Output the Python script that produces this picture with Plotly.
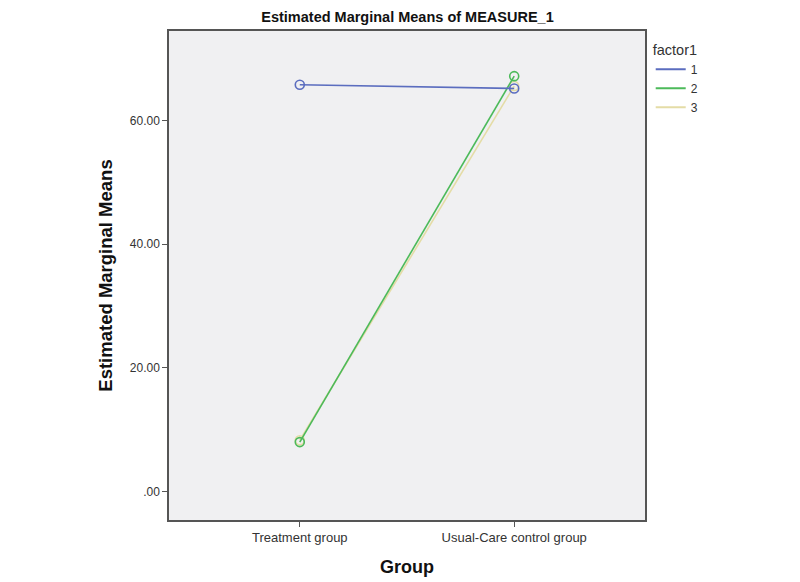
import plotly.graph_objects as go

groups = ["Treatment group", "Usual-Care control group"]
factor_levels = ["1", "2", "3"]
means_1 = [65.8, 65.2]
means_2 = [8.0, 67.2]
means_3 = [8.3, 65.6]
colors = ["#5b6dbf", "#4cba5a", "#e4dca6"]

y_ticks = [0, 20, 40, 60]
y_ticktext = [".00", "20.00", "40.00", "60.00"]

font_name = "Liberation Sans, Arial, sans-serif"

fig = go.Figure()

series = [means_1, means_2, means_3]
# draw level 3 first so 1 and 2 sit on top, like the original
for i in [2, 1, 0]:
    fig.add_trace(go.Scatter(
        x=groups, y=series[i],
        mode="lines+markers",
        line=dict(color=colors[i], width=1.6),
        marker=dict(symbol="circle-open", size=9, color=colors[i],
                    line=dict(width=1.6, color=colors[i])),
        showlegend=False,
        hoverinfo="x+y",
        name=factor_levels[i],
    ))

# legend entries show only the line
for i in range(3):
    fig.add_trace(go.Scatter(
        x=[None], y=[None], mode="lines",
        line=dict(color=colors[i], width=2),
        name=factor_levels[i],
    ))

# the page body adds 8px, so the margins are shifted back by that
fig.update_layout(
    width=800, height=582,
    margin=dict(l=161, r=163, t=23, b=70),
    paper_bgcolor="white",
    plot_bgcolor="#f0f0f2",
    font=dict(family=font_name, size=12, color="#333333"),
    title=dict(
        text="<b>Estimated Marginal Means of MEASURE_1</b>",
        x=399.5 / 800, xanchor="center",
        y=1 - 8.5 / 582, yanchor="middle",
        font=dict(size=14.5, color="#111111"),
    ),
    legend=dict(
        title=dict(text="factor1", font=dict(size=14.5, color="#333333")),
        x=1.012, xanchor="left",
        y=0.99, yanchor="top",
        font=dict(size=12, color="#333333"),
        bgcolor="rgba(0,0,0,0)",
        itemwidth=30,
        tracegroupgap=0,
    ),
    xaxis=dict(
        type="category",
        range=[-0.61, 1.61],
        showgrid=False, zeroline=False,
        showline=True, linecolor="#555555", linewidth=1.5, mirror=True,
        ticks="outside", ticklen=5, tickcolor="#555555",
        tickfont=dict(size=13, color="#333333"),
        title=dict(text="<b>Group</b>", font=dict(size=18, color="#111111"),
                   standoff=16),
    ),
    yaxis=dict(
        range=[-4.6, 74.5],
        tickvals=y_ticks, ticktext=y_ticktext,
        showgrid=False, zeroline=False,
        showline=True, linecolor="#555555", linewidth=1.5, mirror=True,
        ticks="outside", ticklen=5, tickcolor="#555555",
        tickfont=dict(size=12, color="#333333"),
        title=dict(text="<b>Estimated Marginal Means</b>",
                   font=dict(size=18.5, color="#111111"), standoff=12),
    ),
)

fig.write_html("out.html")
